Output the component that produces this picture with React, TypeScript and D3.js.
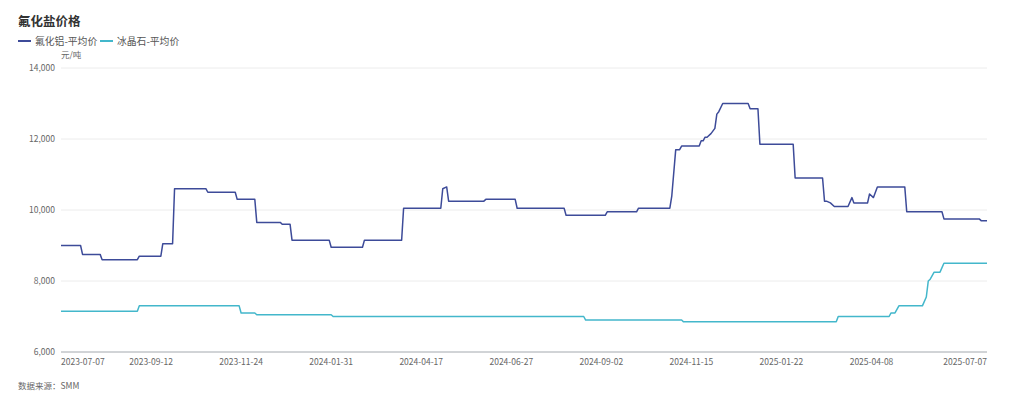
import React from 'react';
import * as d3 from 'd3';

// category axis: trading days, one label every 46 points
const pointCount = 474;
const tickEvery = 46;
const tickLabels = [
    '2023-07-07', '2023-09-12', '2023-11-24', '2024-01-31', '2024-04-17', '2024-06-27',
    '2024-09-02', '2024-11-15', '2025-01-22', '2025-04-08', '2025-07-07'
];
const yTicks = [6000, 8000, 10000, 12000, 14000];

// [point index, price] where the price changes
const aluminiumFluoride: [number, number][] = [
    [0, 9000], [10, 9000], [11, 8750], [20, 8750], [21, 8600], [39, 8600], [40, 8700],
    [51, 8700], [52, 9050], [57, 9050], [58, 10600], [74, 10600], [75, 10500], [89, 10500],
    [90, 10300], [99, 10300], [100, 9650], [112, 9650], [113, 9600], [117, 9600], [118, 9150],
    [137, 9150], [138, 8950], [154, 8950], [155, 9150], [174, 9150], [175, 10050], [194, 10050],
    [195, 10600], [197, 10650], [198, 10250], [216, 10250], [217, 10300], [232, 10300],
    [233, 10050], [257, 10050], [258, 9850], [278, 9850], [279, 9950], [294, 9950], [295, 10050],
    [311, 10050], [312, 10400], [314, 11700], [316, 11700], [317, 11800], [326, 11800],
    [327, 11950], [328, 11950], [329, 12050], [330, 12050], [332, 12150], [334, 12300],
    [335, 12700], [336, 12770], [338, 13000], [351, 13000], [352, 12850], [356, 12850],
    [357, 11850], [374, 11850], [375, 10900], [389, 10900], [390, 10250], [391, 10250],
    [393, 10200], [395, 10100], [402, 10100], [404, 10350], [405, 10200], [412, 10200],
    [413, 10450], [415, 10350], [417, 10650], [431, 10650], [432, 9950], [450, 9950],
    [451, 9750], [469, 9750], [470, 9700], [473, 9700]
];
const cryolite: [number, number][] = [
    [0, 7150], [39, 7150], [40, 7300], [91, 7300], [92, 7100], [99, 7100], [100, 7050],
    [138, 7050], [139, 7000], [267, 7000], [268, 6900], [317, 6900], [318, 6850], [396, 6850],
    [397, 7000], [423, 7000], [424, 7100], [426, 7100], [428, 7300], [440, 7300], [442, 7550],
    [443, 8000], [444, 8050], [446, 8250], [449, 8250], [451, 8500], [473, 8500]
];

const seriesNames = ['氟化铝-平均价', '冰晶石-平均价'];
const seriesColors = ['#3d4b99', '#43b7cb'];

const width = 1024;
const height = 399;
const plot = {left: 61, right: 987, top: 68, bottom: 352};
const font = '"Noto Sans CJK SC", "Noto Sans", sans-serif';

export default function App() {
    const x = d3.scaleLinear().domain([0, pointCount - 1]).range([plot.left, plot.right]);
    const y = d3.scaleLinear().domain([6000, 14000]).range([plot.bottom, plot.top]);
    const line = d3.line<[number, number]>().x(d => x(d[0])).y(d => y(d[1]));
    const fmt = d3.format(',');

    return (
        <svg width={width} height={height} style={{position: 'absolute', left: 0, top: 0, background: '#fff'}}
             fontFamily={font}>
            <text x={18} y={25.5} fontSize={12.5} fontWeight="bold" fill="#333">氟化盐价格</text>

            {seriesNames.map((name, i) => {
                const lx = i === 0 ? 18 : 100;
                return (
                    <g key={name}>
                        <line x1={lx} x2={lx + 13} y1={41} y2={41} stroke={seriesColors[i]} strokeWidth={2}/>
                        <text x={lx + 17} y={44.5} fontSize={9.8} fill="#555">{name}</text>
                    </g>
                );
            })}

            <text x={61} y={58} fontSize={8.5} fill="#666">元/吨</text>

            {yTicks.map(t => (
                <g key={t}>
                    {t !== 6000 && <line x1={plot.left} x2={plot.right} y1={y(t)} y2={y(t)} stroke="#ececec"/>}
                    <text x={55} y={y(t)} dy="0.35em" textAnchor="end" fontSize={8.5} fill="#666">{fmt(t)}</text>
                </g>
            ))}
            <line x1={plot.left} x2={plot.right} y1={plot.bottom} y2={plot.bottom} stroke="#a3a8ae" strokeWidth={1}/>

            {tickLabels.map((label, i) => {
                const first = i === 0;
                const last = i === tickLabels.length - 1;
                const tx = first ? plot.left : last ? plot.right : x(i * tickEvery);
                return (
                    <text key={label} x={tx} y={365} fontSize={8.5} fill="#666"
                          textAnchor={first ? 'start' : last ? 'end' : 'middle'}>{label}</text>
                );
            })}

            {[aluminiumFluoride, cryolite].map((data, i) => (
                <path key={i} d={line(data) || ''} fill="none" stroke={seriesColors[i]} strokeWidth={1.5}
                      strokeLinejoin="round"/>
            ))}

            <text x={18} y={389} fontSize={8.5} fill="#666">数据来源：SMM</text>
        </svg>
    );
}
